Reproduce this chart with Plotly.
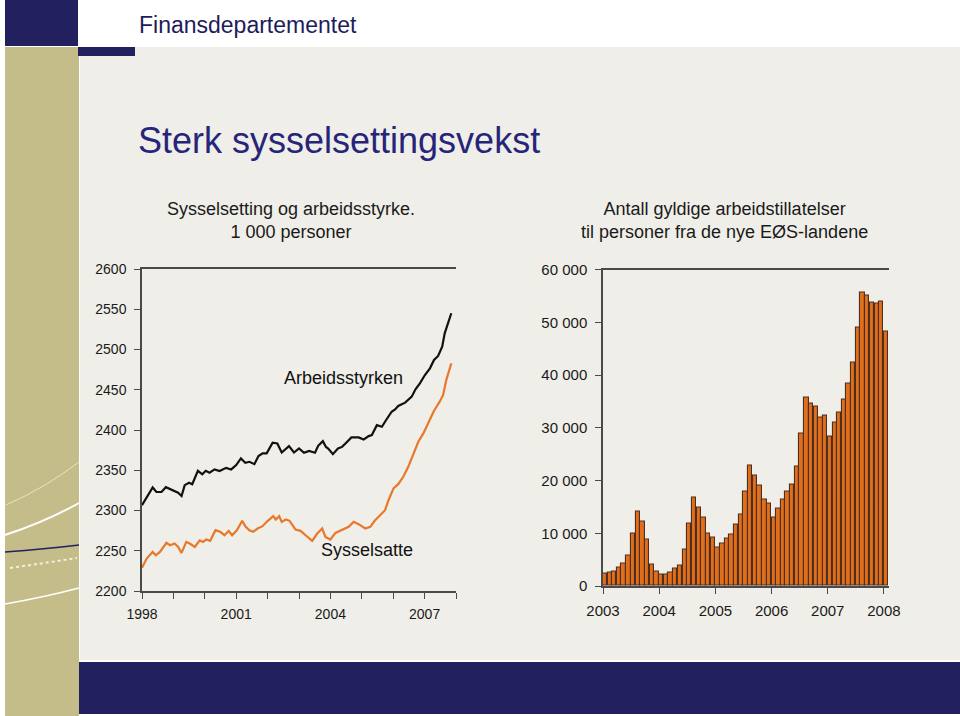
import plotly.graph_objects as go
import pandas as pd

W, H = 960, 716

# ---------------- data ----------------
# Left chart: Sysselsetting og arbeidsstyrke, 1000 personer (decimal year, value)
arb_year = [1998.00, 1998.34, 1998.46, 1998.62, 1998.76, 1998.99, 1999.15, 1999.26, 1999.36, 1999.50,
            1999.60, 1999.78, 1999.92, 2000.03, 2000.15, 2000.31, 2000.47, 2000.68, 2000.84, 2001.00,
            2001.15, 2001.29, 2001.42, 2001.58, 2001.71, 2001.84, 2001.97, 2002.16, 2002.31, 2002.45,
            2002.58, 2002.68, 2002.84, 2003.00, 2003.16, 2003.32, 2003.51, 2003.61, 2003.76, 2003.86,
            2003.93, 2004.08, 2004.24, 2004.37, 2004.48, 2004.67, 2004.90, 2005.06, 2005.22, 2005.32,
            2005.48, 2005.64, 2005.76, 2005.95, 2006.06, 2006.16, 2006.38, 2006.59, 2006.71, 2006.85,
            2007.01, 2007.17, 2007.30, 2007.43, 2007.56, 2007.64, 2007.85]
arb_val = [2306.6, 2328.6, 2323.0, 2323.0, 2329.0, 2324.5, 2322.0, 2318.0, 2331.5, 2334.4,
           2332.7, 2349.3, 2345.0, 2349.3, 2347.0, 2351.0, 2349.0, 2353.0, 2351.0, 2356.4,
           2364.7, 2359.3, 2360.5, 2357.6, 2367.6, 2371.0, 2371.0, 2384.2, 2383.3, 2372.0,
           2377.0, 2380.0, 2372.0, 2377.0, 2371.7, 2374.0, 2371.7, 2380.4, 2386.2, 2379.0,
           2377.0, 2370.0, 2377.0, 2379.0, 2383.3, 2390.8, 2390.8, 2388.3, 2392.4, 2393.7,
           2406.0, 2404.0, 2411.5, 2422.7, 2425.6, 2429.8, 2434.0, 2441.4, 2450.5, 2458.0,
           2468.3, 2476.6, 2487.0, 2492.0, 2503.6, 2520.0, 2545.0]

sys_year = [1998.00, 1998.15, 1998.34, 1998.44, 1998.57, 1998.78, 1998.89, 1999.04, 1999.15, 1999.26,
            1999.41, 1999.52, 1999.68, 1999.84, 1999.94, 2000.05, 2000.17, 2000.34, 2000.49, 2000.63,
            2000.76, 2000.87, 2001.02, 2001.19, 2001.29, 2001.42, 2001.54, 2001.68, 2001.84, 2001.97,
            2002.18, 2002.26, 2002.37, 2002.45, 2002.58, 2002.70, 2002.89, 2003.05, 2003.21, 2003.42,
            2003.58, 2003.74, 2003.84, 2004.00, 2004.16, 2004.37, 2004.58, 2004.74, 2004.90, 2005.11,
            2005.27, 2005.41, 2005.58, 2005.74, 2005.85, 2006.01, 2006.16, 2006.32, 2006.48, 2006.64,
            2006.80, 2006.96, 2007.11, 2007.30, 2007.48, 2007.59, 2007.69, 2007.85]
sys_val = [2229.0, 2240.3, 2248.6, 2244.4, 2248.6, 2259.8, 2256.9, 2259.0, 2254.8, 2247.3,
           2261.0, 2259.0, 2254.8, 2263.0, 2261.0, 2264.0, 2262.3, 2275.5, 2273.5, 2269.3,
           2274.7, 2269.3, 2275.5, 2287.2, 2280.5, 2275.5, 2273.5, 2277.6, 2280.5, 2285.9,
           2293.0, 2288.8, 2293.0, 2285.9, 2288.8, 2287.2, 2276.4, 2274.7, 2269.3, 2262.3,
           2271.4, 2277.6, 2267.2, 2264.0, 2272.2, 2275.5, 2279.7, 2285.9, 2283.0, 2277.6,
           2279.7, 2287.2, 2294.2, 2300.4, 2312.8, 2327.4, 2332.7, 2341.9, 2354.3, 2371.0,
           2385.4, 2395.8, 2409.0, 2424.0, 2435.2, 2443.5, 2462.0, 2482.8]

left_tickvals = list(range(1998, 2009))
left_ticktext = ["1998", "", "", "2001", "", "", "2004", "", "", "2007", ""]
left_y_ticks = [2200, 2250, 2300, 2350, 2400, 2450, 2500, 2550, 2600]

# Right chart: gyldige arbeidstillatelser, monthly Jan 2003 - Jan 2008
perm_months = pd.date_range("2003-01-01", "2008-01-01", freq="MS") + pd.Timedelta(days=14)
perm_val = [2400, 2530, 2780, 3540, 4300, 5815, 9860, 14030, 12140, 8720,
            4110, 2720, 2210, 2210, 2530, 3290, 3920, 6830, 11880, 16810,
            14920, 12900, 9990, 9170, 7270, 7960, 8980, 9670, 11570, 13460,
            17830, 22880, 20990, 19090, 16310, 15550, 13020, 14730, 16310, 17830,
            19280, 22630, 28820, 35650, 34640, 34010, 31860, 32240, 28320, 30970,
            32930, 35270, 38310, 42420, 48990, 55690, 55060, 53730, 53480, 53980,
            48230]
right_years = ["2003", "2004", "2005", "2006", "2007", "2008"]
right_y_ticks = [0, 10000, 20000, 30000, 40000, 50000, 60000]
right_y_text = ["0", "10 000", "20 000", "30 000", "40 000", "50 000", "60 000"]

# ---------------- helpers (pixel -> paper) ----------------
def px(x):
    return x / W


def py(y):
    return 1 - y / H


NAVY = "#23205F"
KHAKI = "#C4BD8A"
BEIGE = "#EFEEE8"
AXIS = "#4a4a4a"
FONT = "Liberation Sans, Arial, sans-serif"

fig = go.Figure()

fig.add_trace(go.Scatter(x=arb_year, y=arb_val, mode="lines", line=dict(color="#111111", width=2.2),
                         xaxis="x", yaxis="y", showlegend=False, hoverinfo="skip"))
fig.add_trace(go.Scatter(x=sys_year, y=sys_val, mode="lines", line=dict(color="#E8782A", width=2.2),
                         xaxis="x", yaxis="y", showlegend=False, hoverinfo="skip"))
fig.add_trace(go.Bar(x=perm_months, y=perm_val, xaxis="x2", yaxis="y3", showlegend=False,
                     marker=dict(color="#E06F1C", line=dict(color="#4E2E1E", width=1.1)),
                     hoverinfo="skip"))

tickfont_l = dict(family=FONT, size=14, color="#1a1a1a")
tickfont_r = dict(family=FONT, size=15, color="#1a1a1a")

common = dict(showgrid=False, zeroline=False, automargin=False, ticks="outside", ticklen=6,
              tickcolor=AXIS, showline=True, linecolor=AXIS, linewidth=1.5)

fig.update_layout(
    template="none",
    width=W, height=H,
    margin=dict(l=0, r=0, t=0, b=0, pad=0),
    paper_bgcolor="white",
    plot_bgcolor="rgba(0,0,0,0)",
    bargap=0,
    font=dict(family=FONT, color="#1a1a1a"),
    xaxis=dict(domain=[px(142), px(456)], range=[1998, 2008], tickvals=left_tickvals,
               ticktext=left_ticktext, mirror=True, tickfont=tickfont_l,
               ticklabelstandoff=3, anchor="y", **common),
    yaxis=dict(domain=[py(591), py(269)], range=[2200, 2600], tickvals=left_y_ticks,
               tickfont=tickfont_l, ticklabelstandoff=5, anchor="x", **common),
    yaxis2=dict(domain=[py(591), py(269)], range=[2200, 2600], tickvals=left_y_ticks,
                overlaying="y", side="right", anchor="x", tickfont=tickfont_l,
                ticklabelstandoff=4, **common),
    xaxis2=dict(domain=[px(603), px(889)], range=["2003-01-01", "2008-02-03"],
                tickvals=[f"{y}-01-01" for y in right_years], ticktext=right_years,
                mirror=True, tickfont=tickfont_r, ticklabelstandoff=4, anchor="y3", **common),
    yaxis3=dict(domain=[py(586), py(269.6)], range=[0, 60000], tickvals=right_y_ticks,
                ticktext=right_y_text, tickfont=tickfont_r, ticklabelstandoff=5, anchor="x2",
                **common),
    yaxis4=dict(domain=[py(586), py(269.6)], range=[0, 60000], tickvals=right_y_ticks,
                ticktext=right_y_text, overlaying="y3", side="right", anchor="x2",
                tickfont=tickfont_r, ticklabelstandoff=5, **common),
)

# ---------------- background decoration ----------------
shapes = [
    dict(type="rect", xref="paper", yref="paper", x0=px(80), x1=1, y0=py(660), y1=py(47),
         fillcolor=BEIGE, line_width=0, layer="below"),
    dict(type="rect", xref="paper", yref="paper", x0=px(5), x1=px(79), y0=0, y1=py(47),
         fillcolor=KHAKI, line_width=0, layer="below"),
    dict(type="rect", xref="paper", yref="paper", x0=px(5), x1=px(78), y0=py(46), y1=1,
         fillcolor=NAVY, line_width=0, layer="below"),
    dict(type="rect", xref="paper", yref="paper", x0=px(78), x1=px(135), y0=py(56), y1=py(47),
         fillcolor=NAVY, line_width=0, layer="below"),
    dict(type="rect", xref="paper", yref="paper", x0=px(79), x1=1, y0=py(714), y1=py(662),
         fillcolor=NAVY, line_width=0, layer="below"),
]


def curve(x0, y0, xm, ym, x1, y1, color, width, dash="solid"):
    return dict(type="path", xref="paper", yref="paper",
                path=f"M {px(x0)},{py(y0)} Q {px(xm)},{py(ym)} {px(x1)},{py(y1)}",
                line=dict(color=color, width=width, dash=dash), layer="below")


shapes += [
    curve(6, 505, 45, 488, 79, 462, "#E9E4C2", 1),
    curve(5, 535, 45, 522, 79, 503, "#FFFFFF", 2),
    curve(5, 552, 45, 549, 79, 545, NAVY, 1.5),
    curve(10, 568, 45, 563, 77, 558, "#F4F0D8", 2, "dot"),
    curve(5, 604, 45, 597, 79, 588, "#FFFFFF", 1.5),
]
fig.update_layout(shapes=shapes)

# ---------------- text ----------------
ann = [
    dict(text="Finansdepartementet", x=px(137), y=py(25), xanchor="left", yanchor="middle",
         font=dict(family=FONT, size=23, color="#1E1C5A")),
    dict(text="Sterk sysselsettingsvekst", x=px(136), y=py(141), xanchor="left", yanchor="middle",
         font=dict(family=FONT, size=36, color="#27257A")),
    dict(text="Sysselsetting og arbeidsstyrke.<br>1 000 personer", x=px(291), y=py(220),
         xanchor="center", yanchor="middle", align="center",
         font=dict(family=FONT, size=18, color="#1a1a1a")),
    dict(text="Antall gyldige arbeidstillatelser<br>til personer fra de nye EØS-landene", x=px(724),
         y=py(220), xanchor="center", yanchor="middle", align="center",
         font=dict(family=FONT, size=18, color="#1a1a1a")),
]
for a in ann:
    a.update(xref="paper", yref="paper", showarrow=False)

ann += [
    dict(text="Arbeidsstyrken", x=2004.42, y=2464.6, xref="x", yref="y", showarrow=False,
         font=dict(family=FONT, size=18, color="#111111")),
    dict(text="Sysselsatte", x=2005.15, y=2251, xref="x", yref="y", showarrow=False,
         font=dict(family=FONT, size=18, color="#111111")),
]
fig.update_layout(annotations=ann)

fig.write_html("out.html", config={"displayModeBar": False},
               post_script="document.body.style.margin='0';document.body.style.overflow='hidden';")
